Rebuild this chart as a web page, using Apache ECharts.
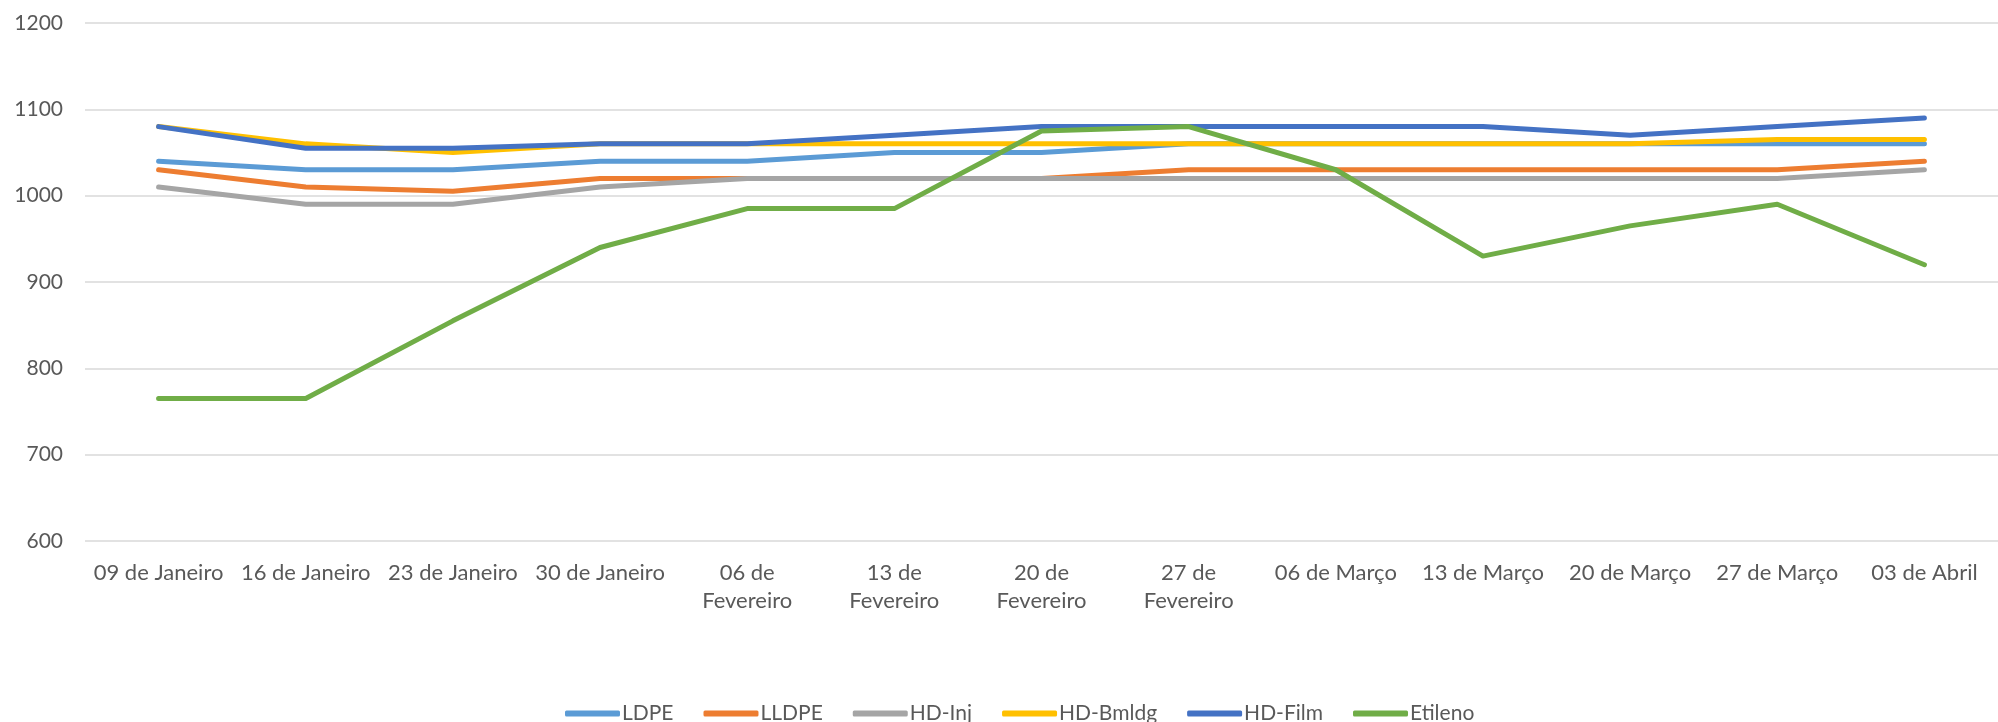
<!DOCTYPE html>
<html>
<head>
<meta charset="utf-8">
<script src="https://cdn.jsdelivr.net/npm/echarts@6/dist/echarts.min.js"></script>
<style>
html,body{margin:0;padding:0;background:#fff;}
#chart{width:1998px;height:722px;}
</style>
</head>
<body>
<div id="chart"></div>
<script>
const categories = ["09 de Janeiro","16 de Janeiro","23 de Janeiro","30 de Janeiro","06 de Fevereiro","13 de Fevereiro","20 de Fevereiro","27 de Fevereiro","06 de Março","13 de Março","20 de Março","27 de Março","03 de Abril"];
const LDPE    = [1040,1030,1030,1040,1040,1050,1050,1060,1060,1060,1060,1060,1060];
const LLDPE   = [1030,1010,1005,1020,1020,1020,1020,1030,1030,1030,1030,1030,1040];
const HDInj   = [1010, 990, 990,1010,1020,1020,1020,1020,1020,1020,1020,1020,1030];
const HDBmldg = [1080,1060,1050,1060,1060,1060,1060,1060,1060,1060,1060,1065,1065];
const HDFilm  = [1080,1055,1055,1060,1060,1070,1080,1080,1080,1080,1070,1080,1090];
const Etileno = [ 765, 765, 855, 940, 985, 985,1075,1080,1030, 930, 965, 990, 920];
const yTicks = {min:600, max:1200, interval:100};

const seriesDefs = [
  ["LDPE", LDPE, "#5B9BD5"],
  ["LLDPE", LLDPE, "#ED7D31"],
  ["HD-Inj", HDInj, "#A5A5A5"],
  ["HD-Bmldg", HDBmldg, "#FFC000"],
  ["HD-Film", HDFilm, "#4472C4"],
  ["Etileno", Etileno, "#70AD47"]
];
const FONT = "Lato";
const chart = echarts.init(document.getElementById('chart'), null, {renderer:'canvas'});
chart.setOption({
  animation:false,
  textStyle:{fontFamily:FONT},
  grid:{left:85, top:23, width:1923, height:518, containLabel:false},
  legend:{
    top:698, left:560,
    itemWidth:55, itemHeight:6, itemGap:30,
    icon:'roundRect',
    textStyle:{fontFamily:FONT, fontSize:21, color:'#595959', padding:[0,0,0,-3]},
    data: seriesDefs.map(s=>s[0])
  },
  xAxis:{
    type:'category', data:categories, boundaryGap:true,
    axisLine:{show:false}, axisTick:{show:false},
    axisLabel:{
      interval:0, margin:18, fontSize:22, color:'#595959', lineHeight:28, fontFamily:FONT,
      formatter:v=>v.replace(' de Fevereiro',' de\nFevereiro')
    }
  },
  yAxis:{
    type:'value', min:yTicks.min, max:yTicks.max, interval:yTicks.interval,
    axisLine:{show:false}, axisTick:{show:false},
    axisLabel:{fontSize:21, color:'#595959', margin:22, fontFamily:FONT, formatter:v=>String(v)},
    splitLine:{lineStyle:{color:'#D9D9D9', width:1.5}}
  },
  series: seriesDefs.map(s=>({
    name:s[0], type:'line', data:s[1], showSymbol:false, symbol:'none',
    color:s[2],
    lineStyle:{width:5, color:s[2], cap:'round', join:'round'}
  }))
});
</script>
</body>
</html>
